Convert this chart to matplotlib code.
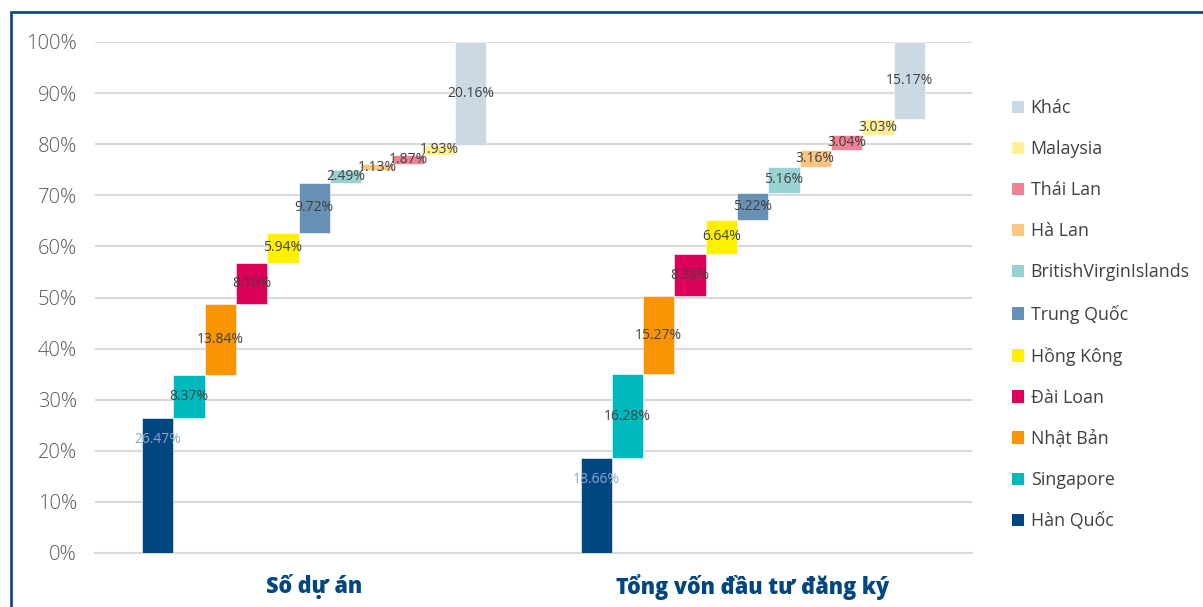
import matplotlib.pyplot as plt
from matplotlib.patches import Rectangle, Patch

plt.rcParams['font.family'] = ['Open Sans', 'DejaVu Sans']

groups = ['Số dự án', 'Tổng vốn đầu tư đăng ký']
countries = ['Hàn Quốc', 'Singapore', 'Nhật Bản', 'Đài Loan', 'Hồng Kông',
             'Trung Quốc', 'BritishVirginIslands', 'Hà Lan', 'Thái Lan',
             'Malaysia', 'Khác']
so_du_an = [26.47, 8.37, 13.84, 8.10, 5.94, 9.72, 2.49, 1.13, 1.87, 1.93, 20.16]
tong_von = [18.66, 16.28, 15.27, 8.38, 6.64, 5.22, 5.16, 3.16, 3.04, 3.03, 15.17]
colors = ['#004680', '#00B9BE', '#F79400', '#DC005A', '#FFF000', '#6690B4',
          '#99D2D2', '#FAC682', '#F08296', '#FFF096', '#CBD9E4']

fig = plt.figure(figsize=(12.03, 6.07), dpi=100)
ax = fig.add_axes([95 / 1203, 1 - 553 / 607, 877 / 1203, 511 / 607])

w = 0.0714
n = len(countries)
for g, vals in enumerate([so_du_an, tong_von]):
    base = 0.0
    for i, v in enumerate(vals):
        x = g + (i - (n - 1) / 2) * w
        ax.bar(x, v, width=w, bottom=base, color=colors[i],
               edgecolor='white', linewidth=0.4, zorder=3)
        if i == 0:
            ax.text(x, base + v - 4.3, f'{v:.2f}%', ha='center', va='center',
                    fontsize=10, color='#8FA8C6', zorder=4)
        else:
            ax.text(x, base + v / 2, f'{v:.2f}%', ha='center', va='center',
                    fontsize=10, color='#404040', zorder=4)
        base += v

ax.set_xlim(-0.5, 1.5)
ax.set_ylim(0, 100)
ax.set_yticks(range(0, 101, 10))
ax.set_yticklabels([f'{t}%' for t in range(0, 101, 10)], fontsize=14.5,
                   fontweight='light', color='#595959')
ax.set_xticks([0, 1])
ax.set_xticklabels(groups, fontsize=15.5, fontweight='heavy', color='#004680')
ax.tick_params(axis='x', length=0, pad=15)
ax.tick_params(axis='y', length=0, pad=13)
ax.grid(axis='y', color='#D9D9D9', linewidth=1.5, zorder=0)
for s in ['top', 'right', 'left']:
    ax.spines[s].set_visible(False)
ax.spines['bottom'].set_color('#D9D9D9')
ax.spines['bottom'].set_linewidth(1.5)

handles = [Patch(facecolor=colors[i], label=countries[i]) for i in range(n)][::-1]
fig.legend(handles=handles, loc='upper left', bbox_to_anchor=(996 / 1203, 1 - 83 / 607),
           frameon=False, fontsize=12.8, handlelength=0.7, handleheight=0.7,
           handletextpad=0.35, labelspacing=1.3, labelcolor='#404040')

# dark blue frame around the chart
fig.patches.append(Rectangle((11 / 1203, -0.1), 1.2, 1.1 - 12 / 607,
                             transform=fig.transFigure, fill=False,
                             edgecolor='#0F4C8C', linewidth=2))

fig.savefig('out.png', dpi=100)
